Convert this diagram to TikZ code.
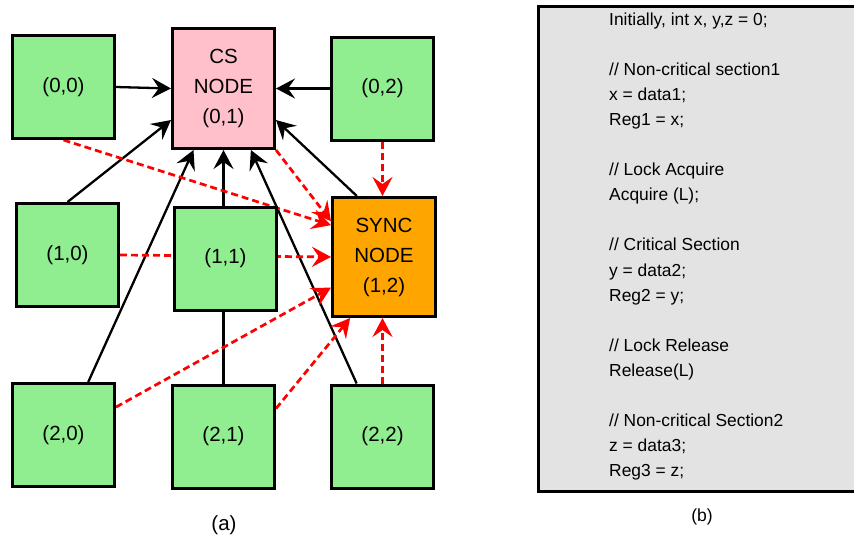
\documentclass[tikz,border=0pt]{standalone}
\usepackage{fontspec}
\setmainfont{Liberation Sans}
\usetikzlibrary{arrows.meta,calc}
\pgfdeclarelayer{background}
\pgfsetlayers{background,main}
\definecolor{nodegreen}{RGB}{144,238,144}
\definecolor{cspink}{RGB}{255,192,203}
\definecolor{syncorange}{RGB}{255,165,0}
\definecolor{codegray}{RGB}{227,227,227}
\definecolor{dashred}{RGB}{255,0,0}
\begin{document}
\begin{tikzpicture}[x=1pt,y=-1pt,
  box/.style={draw=black, line width=3pt, inner sep=0pt, align=center, font=\fontsize{20.5}{30}\selectfont},
  pe/.style={box, fill=nodegreen, minimum width=102pt, minimum height=103pt},
  solidarrow/.style={draw=black, line width=2.3pt, -{Stealth[length=19pt,width=20pt,inset=7pt]}},
  dasharrow/.style={draw=dashred, line width=2.7pt, dash pattern=on 7pt off 4pt, -{Stealth[length=19pt,width=20pt,inset=7pt]}},
  codeline/.style={anchor=base west, inner sep=0pt, font=\fontsize{17.4}{25}\selectfont},
  caption/.style={inner sep=0pt}
]
\useasboundingbox (0,0) rectangle (854,544);

% ---- grid of nodes ----
\node[pe] (n00) at (63.5,87) {(0,0)};
\node[box, fill=cspink, minimum width=102pt, minimum height=120pt] (cs) at (223.5,88.5) {CS\\NODE\\(0,1)};
\node[pe] (n02) at (382.5,88.5) {(0,2)};
\node[pe] (n10) at (67.5,255) {(1,0)};
\node[pe] (n11) at (225.5,258.5) {(1,1)};
\node[box, fill=syncorange, minimum width=103pt, minimum height=119pt] (sync) at (384,257) {SYNC\\NODE\\(1,2)};
\node[pe] (n20) at (63.5,435) {(2,0)};
\node[pe] (n21) at (223.5,436.5) {(2,1)};
\node[pe] (n22) at (382.5,436.5) {(2,2)};

\begin{pgfonlayer}{background}
  % black arrows to CS node
  \draw[solidarrow] (n00.east) -- (cs.west);
  \draw[solidarrow] (n02.west) -- (cs.east);
  \draw[solidarrow] (n10.north) -- (cs.211);
  \draw[solidarrow] (n20.65) -- (cs.244);
  \draw[solidarrow] (n21.north) -- (cs.south);
  \draw[solidarrow] (n22.116) -- (cs.294);
  \draw[solidarrow] (sync.114) -- (cs.329);
  % red dashed arrows to SYNC node
  \draw[dasharrow] (n00.south) -- (sync.149);
  \draw[dasharrow] (cs.south east) -- (sync.146);
  \draw[dasharrow] (n02.south) -- (sync.north -| n02.south);
  \draw[dasharrow] (n10.east) -- (sync.west);
  \draw[dasharrow] (n20.28) -- (sync.210);
  \draw[dasharrow] (n21.28) -- (sync.241);
  \draw[dasharrow] (n22.north) -- (sync.south -| n22.north);
\end{pgfonlayer}

\node[caption, font=\fontsize{20.5}{24}\selectfont] (capa) at (224,525) {(a)};

% ---- code panel ----
\fill[codegray] (538.5,6.5) rectangle (854,491.5);
\draw[line width=3pt] (854,6.5) -- (538.5,6.5) -- (538.5,491.5) -- (854,491.5);
\node[codeline] (c0)  at (609,25)    {Initially, int x, y,z = 0;};
\node[codeline] (c2)  at (609,75.2)  {// Non-critical section1};
\node[codeline] (c3)  at (609,100.3) {x = data1;};
\node[codeline] (c4)  at (609,125.4) {Reg1 = x;};
\node[codeline] (c6)  at (609,175.6) {// Lock Acquire};
\node[codeline] (c7)  at (609,200.7) {Acquire (L);};
\node[codeline] (c9)  at (609,250.9) {// Critical Section};
\node[codeline] (c10) at (609,276)   {y = data2;};
\node[codeline] (c11) at (609,301.1) {Reg2 = y;};
\node[codeline] (c13) at (609,351.3) {// Lock Release};
\node[codeline] (c14) at (609,376.4) {Release(L)};
\node[codeline] (c16) at (609,426.6) {// Non-critical Section2};
\node[codeline] (c17) at (609,451.7) {z = data3;};
\node[codeline] (c18) at (609,476.8) {Reg3 = z;};

\node[caption, font=\fontsize{17.5}{21}\selectfont] (capb) at (702,517) {(b)};
\end{tikzpicture}
\end{document}
